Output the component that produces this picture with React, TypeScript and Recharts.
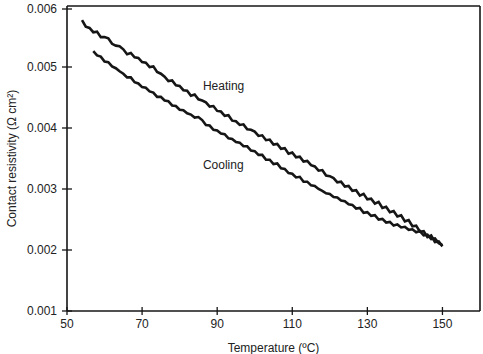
import { LineChart, Line, XAxis, YAxis, ReferenceLine, ReferenceDot } from 'recharts';

// temperature sweep, one reading per degree C
const heatingStart = 54;
const heatingValues = [
  0.00577, 0.00566, 0.00564, 0.00557, 0.00558, 0.00549, 0.00549, 0.00547, 0.00538, 0.00535,
  0.00534, 0.00529, 0.00521, 0.00523, 0.00516, 0.00515, 0.00508, 0.00507, 0.005, 0.00501,
  0.00492, 0.00489, 0.00484, 0.00477, 0.00478, 0.0047, 0.00469, 0.00462, 0.00461, 0.00453,
  0.00455, 0.00447, 0.00445, 0.00442, 0.00435, 0.00436, 0.00428, 0.00427, 0.0042, 0.00421,
  0.00412, 0.00411, 0.00405, 0.00406, 0.00398, 0.00397, 0.00394, 0.00387, 0.00388, 0.0038,
  0.00381, 0.00373, 0.00374, 0.00366, 0.00367, 0.00358, 0.0036, 0.00352, 0.00353, 0.00345,
  0.00346, 0.00339, 0.00337, 0.0033, 0.00331, 0.00322, 0.00321, 0.00318, 0.00311, 0.00312,
  0.00304, 0.00305, 0.00297, 0.00298, 0.00289, 0.00292, 0.00283, 0.00284, 0.00276, 0.00279,
  0.00269, 0.00271, 0.00262, 0.00264, 0.00255, 0.00257, 0.00247, 0.00249, 0.00239, 0.0024,
  0.0023, 0.00231, 0.00221, 0.00224, 0.00213, 0.00214, 0.00206,
];

const coolingStart = 57;
const coolingValues = [
  0.00526, 0.00519, 0.00517, 0.00509, 0.00508, 0.00501, 0.00498, 0.00493, 0.00489, 0.00483,
  0.00483, 0.00475, 0.00473, 0.00467, 0.00466, 0.0046, 0.00458, 0.00451, 0.00451, 0.00445,
  0.00444, 0.00437, 0.00436, 0.0043, 0.00429, 0.00424, 0.00422, 0.00417, 0.00418, 0.00413,
  0.00405, 0.00404, 0.00397, 0.00396, 0.00391, 0.0039, 0.00383, 0.00382, 0.00377, 0.00376,
  0.0037, 0.0037, 0.00363, 0.00362, 0.00356, 0.00356, 0.00348, 0.00348, 0.00341, 0.00342,
  0.00334, 0.00333, 0.00326, 0.00325, 0.00319, 0.0032, 0.00312, 0.00312, 0.00306, 0.00305,
  0.003, 0.00297, 0.00293, 0.00292, 0.00287, 0.00286, 0.00281, 0.0028, 0.00275, 0.00274,
  0.00268, 0.00269, 0.00261, 0.00262, 0.00256, 0.00257, 0.0025, 0.00251, 0.00245, 0.00246,
  0.0024, 0.00242, 0.00237, 0.00238, 0.00233, 0.00234, 0.00229, 0.00231, 0.00224, 0.00225,
  0.00218, 0.00219, 0.00211, 0.00208,
];

const xTicks = [50, 70, 90, 110, 130, 150];
const yTicks = [0.001, 0.002, 0.003, 0.004, 0.005, 0.006];
const curveLabels = [
  { name: 'Heating', t: 86.2, v: 0.0047 },
  { name: 'Cooling', t: 86.2, v: 0.00339 },
];

const heatingData = heatingValues.map((v, i) => ({ t: heatingStart + i, v }));
const coolingData = coolingValues.map((v, i) => ({ t: coolingStart + i, v }));

const ink = '#161616';
const font = { fontFamily: '"Liberation Sans", Arial, sans-serif', fontSize: 12, fill: '#222' };

// ticks cross the axis line, like the original plot
const XTick = (props: any) => {
  const { x, y, payload } = props;
  const axisY = y - 8;
  return (
    <g>
      <line x1={x} x2={x} y1={axisY - 4} y2={axisY + 4} stroke={ink} strokeWidth={1.3} />
      <text x={x} y={y} dy="0.71em" textAnchor="middle" style={font}>{payload.value}</text>
    </g>
  );
};

const YTick = (props: any) => {
  const { x, y, payload } = props;
  const axisX = x + 10;
  return (
    <g>
      <line x1={axisX - 5} x2={axisX + 5} y1={y} y2={y} stroke={ink} strokeWidth={1.3} />
      <text x={x} y={y} dy="0.355em" textAnchor="end" style={font}>{Number(payload.value).toFixed(3)}</text>
    </g>
  );
};

const YLabel = (props: any) => {
  const vb = props.viewBox || {};
  const cx = 12;
  const cy = vb.y + vb.height / 2;
  return (
    <text x={cx} y={cy} transform={`rotate(-90 ${cx} ${cy})`} textAnchor="middle" dominantBaseline="central" style={font}>
      Contact resistivity (Ω cm²)
    </text>
  );
};

export default function App() {
  return (
    <div style={{ position: 'absolute', left: 0, top: 0, background: '#fff' }}>
      <LineChart width={483} height={354} margin={{ top: 6, right: 3, bottom: 0, left: 0 }}>
        <XAxis
          type="number"
          dataKey="t"
          domain={[50, 160]}
          ticks={xTicks}
          allowDataOverflow
          height={43}
          tickSize={4}
          tickMargin={4}
          tickLine={false}
          tick={<XTick />}
          axisLine={{ stroke: ink, strokeWidth: 1.6 }}
          label={{ value: 'Temperature (ºC)', position: 'insideBottom', offset: 2, style: font }}
        />
        <YAxis
          type="number"
          domain={[0.001, 0.006]}
          ticks={yTicks}
          allowDataOverflow
          width={67}
          tickSize={4}
          tickMargin={6}
          tickLine={false}
          tick={<YTick />}
          axisLine={{ stroke: ink, strokeWidth: 1.6 }}
          label={<YLabel />}
        />
        <ReferenceLine y={0.006} stroke={ink} strokeWidth={1.6} ifOverflow="visible" />
        <ReferenceLine x={160} stroke={ink} strokeWidth={1.6} ifOverflow="visible" />
        <Line
          data={heatingData}
          dataKey="v"
          type="linear"
          stroke={ink}
          strokeWidth={2.6}
          strokeLinejoin="miter"
          dot={false}
          isAnimationActive={false}
        />
        <Line
          data={coolingData}
          dataKey="v"
          type="linear"
          stroke={ink}
          strokeWidth={2.6}
          strokeLinejoin="miter"
          dot={false}
          isAnimationActive={false}
        />
        {curveLabels.map((c) => (
          <ReferenceDot
            key={c.name}
            x={c.t}
            y={c.v}
            r={0}
            stroke="none"
            fill="none"
            ifOverflow="visible"
            label={{ value: c.name, position: 'right', offset: 0, style: font }}
          />
        ))}
      </LineChart>
    </div>
  );
}
